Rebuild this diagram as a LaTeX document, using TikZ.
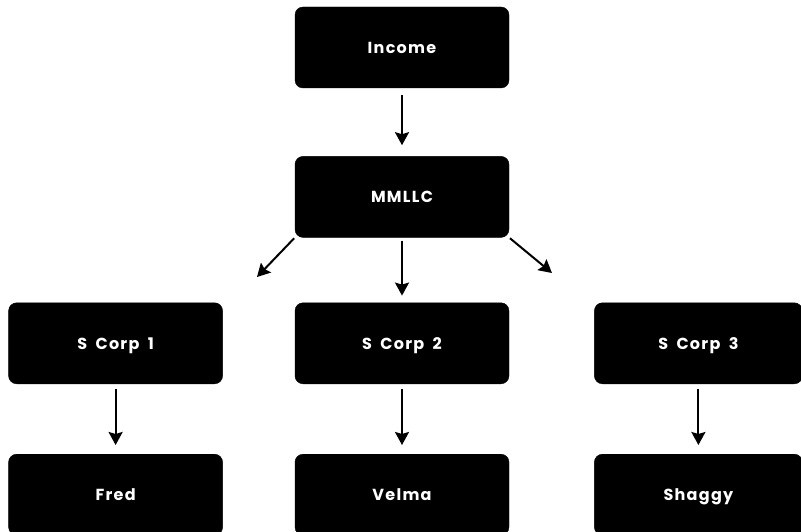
\documentclass[tikz,border=0pt]{standalone}
\usepackage{fontspec}
\newfontfamily\boxfont[LetterSpace=8, WordSpace=1.8]{Poppins}
\usepackage{tikz}
\usetikzlibrary{arrows.meta, positioning}
\tikzstyle{entity} = [rectangle, rounded corners=8pt, minimum width=214pt, minimum height=81pt, align=center, inner sep=0pt, text height=12pt, text depth=0pt, draw=black, fill=black, text=white, font=\boxfont\bfseries\fontsize{16}{19}\selectfont]
\tikzstyle{arrow} = [line width=2pt, ->, >={Stealth[length=13pt, width=14pt, inset=2pt]}, shorten <=5pt, shorten >=9pt]

\begin{document}
\begin{tikzpicture}[x=1pt, y=-1pt]
  \useasboundingbox (0,0) rectangle (801,532);
  \node[entity] (income) at (402,47.5) {Income};
  \node[entity, below=68pt of income] (mmllc) {MMLLC};
  \node[entity, below=65pt of mmllc] (scorp2) {S Corp 2};
  \node[entity, left=72pt of scorp2] (scorp1) {S Corp 1};
  \node[entity, minimum width=208pt, right=85pt of scorp2] (scorp3) {S Corp 3};
  \node[entity, below=70pt of scorp1] (fred) {Fred};
  \node[entity, below=70pt of scorp2] (velma) {Velma};
  \node[entity, minimum width=208pt, below=70pt of scorp3] (shaggy) {Shaggy};
  \coordinate (leftend) at (257,277);
  \coordinate (rightend) at (552,273);

  \draw[arrow, shorten <=7pt, shorten >=11pt] (income) -- (mmllc);
  \draw[arrow, shorten <=1pt, shorten >=0pt] (mmllc.south west) -- (leftend);
  \draw[arrow, shorten <=3pt, shorten >=7pt] (mmllc) -- (scorp2);
  \draw[arrow, shorten <=1pt, shorten >=0pt] (mmllc.south east) -- (rightend);
  \draw[arrow] (scorp1) -- (fred);
  \draw[arrow] (scorp2) -- (velma);
  \draw[arrow] (scorp3) -- (shaggy);
\end{tikzpicture}
\end{document}
